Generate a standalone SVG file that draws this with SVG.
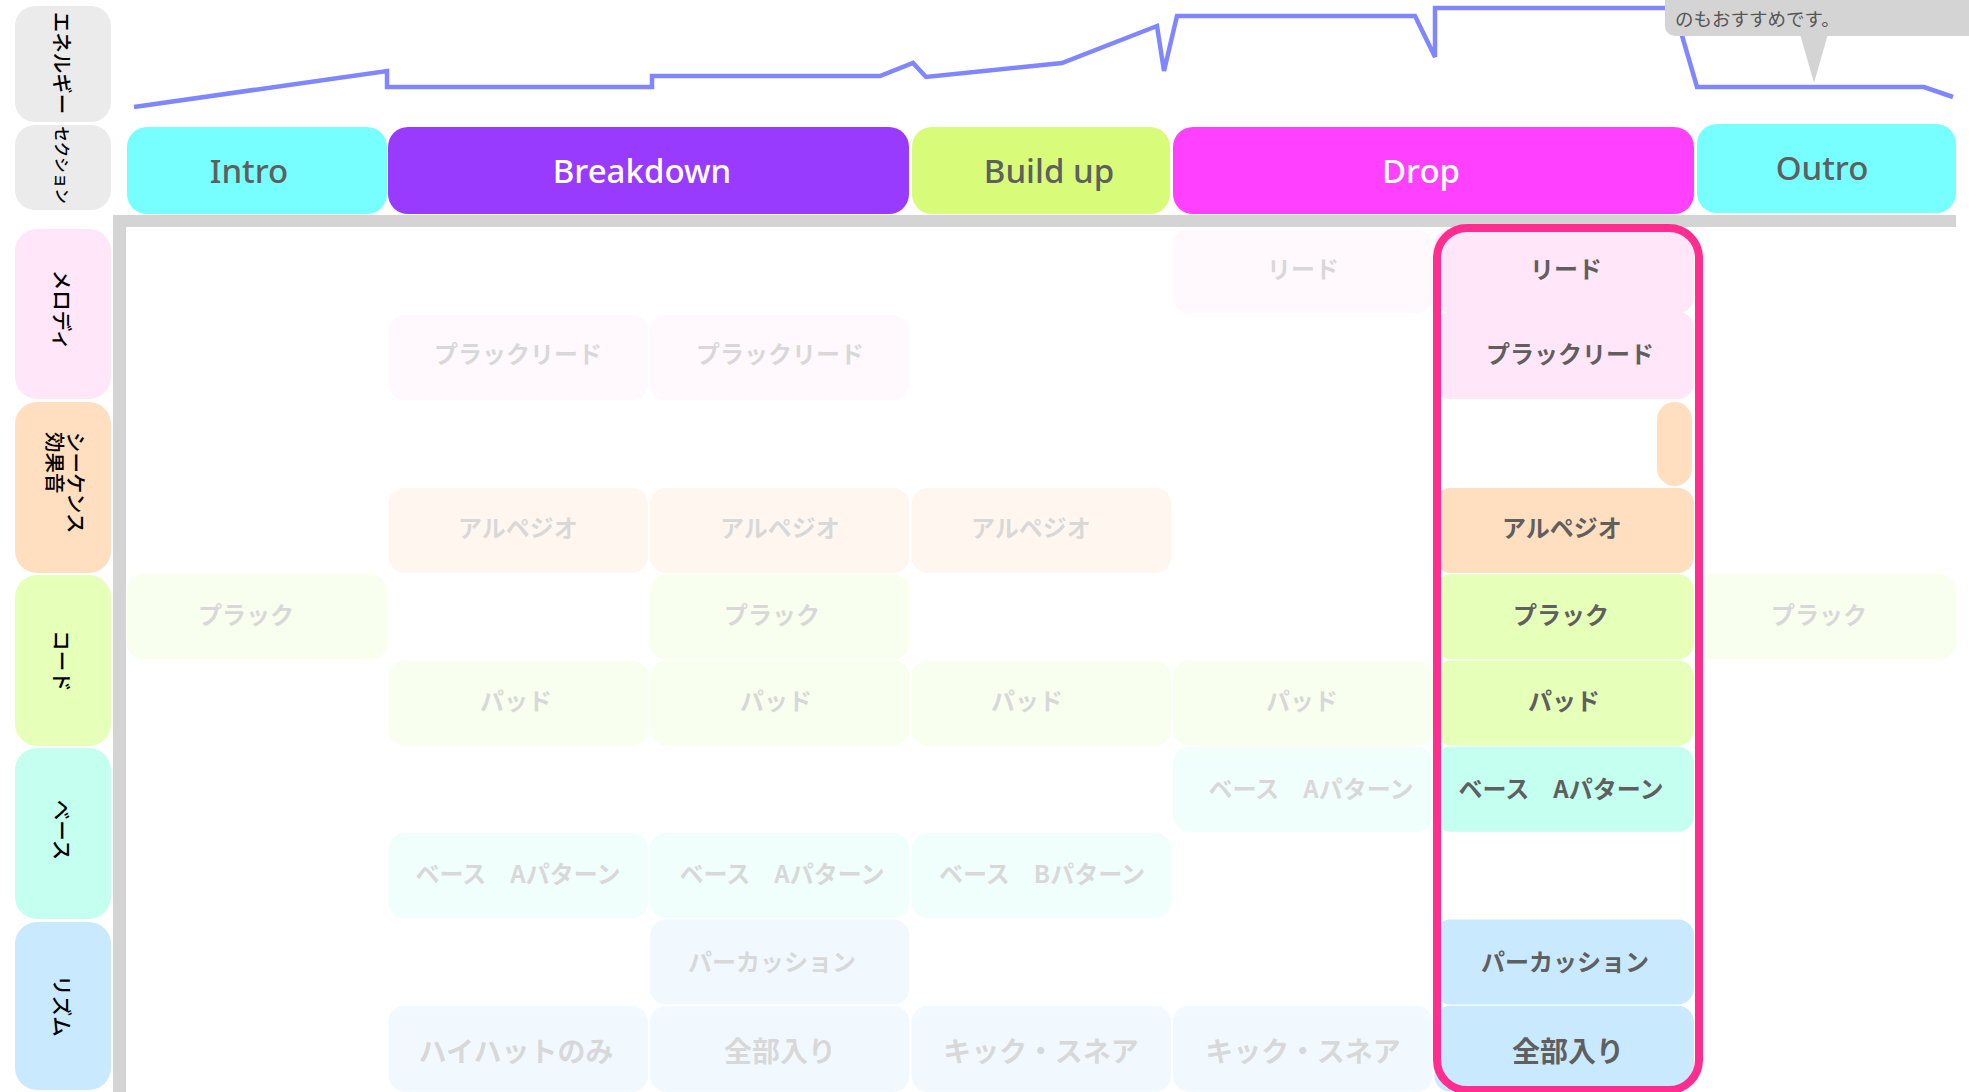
<svg xmlns="http://www.w3.org/2000/svg" width="1969" height="1092" viewBox="0 0 1969 1092">
<style>
.lbl{font-family:"Noto Sans CJK JP","Noto Sans",sans-serif;font-size:20.5px;fill:#000;font-weight:500}
.hdr{font-family:"Noto Sans","Lato","Noto Sans CJK JP",sans-serif;font-size:33px;font-weight:500;text-anchor:middle;dominant-baseline:central}
.dk{fill:#5f5f5f}
.wt{fill:#fff}
.ct{font-family:"Noto Sans CJK JP",sans-serif;font-size:24px;font-weight:700;fill:#5f5f5f;text-anchor:middle;dominant-baseline:central}
.big{font-size:28px}
.faded{opacity:0.24}
.mel{fill:#ffe6f8}
.seq{fill:#ffdfc0}
.chd{fill:#e6ffb9}
.bas{fill:#c4fff0}
.rhy{fill:#c9e9ff}
.gry{fill:#ebebeb}
</style>

<!-- axes -->
<g id="axes">
<rect x="113" y="215" width="1843" height="12" fill="#d4d4d4"/>
<rect x="113" y="215" width="13" height="877" fill="#d4d4d4"/>
</g>

<!-- left labels -->
<g id="label-energy">
<rect class="gry" x="15" y="6" width="96" height="116" rx="20"/>
<text class="lbl" x="63" y="63" font-size="19" text-anchor="middle" dominant-baseline="central" transform="rotate(90 63 63)">エネルギー</text>
</g>
<g id="label-section">
<rect class="gry" x="15" y="125" width="96" height="85" rx="20"/>
<text class="lbl" x="63" y="165" style="font-size:15.5px" text-anchor="middle" dominant-baseline="central" transform="rotate(90 63 165)">セクション</text>
</g>
<g id="label-melody">
<rect class="mel" x="15" y="229" width="96" height="170" rx="22"/>
<text class="lbl" x="63" y="310" text-anchor="middle" dominant-baseline="central" transform="rotate(90 63 310)">メロディ</text>
</g>
<g id="label-sequence">
<rect class="seq" x="15" y="402" width="96" height="171" rx="22"/>
<text class="lbl" x="77" y="432" dominant-baseline="central" transform="rotate(90 77 432)">シーケンス</text>
<text class="lbl" x="56" y="432" dominant-baseline="central" transform="rotate(90 56 432)">効果音</text>
</g>
<g id="label-chord">
<rect class="chd" x="15" y="575" width="96" height="171" rx="22"/>
<text class="lbl" x="63" y="661" text-anchor="middle" dominant-baseline="central" transform="rotate(90 63 661)">コード</text>
</g>
<g id="label-bass">
<rect class="bas" x="15" y="748" width="96" height="171" rx="22"/>
<text class="lbl" x="63" y="830" text-anchor="middle" dominant-baseline="central" transform="rotate(90 63 830)">ベース</text>
</g>
<g id="label-rhythm">
<rect class="rhy" x="15" y="922" width="96" height="168" rx="22"/>
<text class="lbl" x="63" y="1006" text-anchor="middle" dominant-baseline="central" transform="rotate(90 63 1006)">リズム</text>
</g>

<!-- section headers -->
<g id="sec-intro">
<rect x="127" y="127" width="260" height="87" rx="20" fill="#77ffff"/>
<text class="hdr dk" x="249" y="170">Intro</text>
</g>
<g id="sec-breakdown">
<rect x="388" y="127" width="521" height="87" rx="20" fill="#993aff"/>
<text class="hdr wt" x="642" y="170">Breakdown</text>
</g>
<g id="sec-buildup">
<rect x="912" y="127" width="258" height="87" rx="20" fill="#d8fb7a"/>
<text class="hdr dk" x="1049" y="170">Build up</text>
</g>
<g id="sec-drop">
<rect x="1173" y="127" width="521" height="87" rx="20" fill="#ff40ff"/>
<text class="hdr wt" x="1421" y="170">Drop</text>
</g>
<g id="sec-outro">
<rect x="1697" y="124" width="259" height="89" rx="20" fill="#77ffff"/>
<text class="hdr dk" x="1822" y="167">Outro</text>
</g>

<!-- cells: columns x=127+261.5i, rows y=229+86.3j -->
<!-- melody -->
<g id="c4-lead" class="faded"><rect class="mel" x="1173" y="229" width="259.5" height="84" rx="16"/><text class="ct" x="1303" y="267">リード</text></g>
<g id="c5-lead"><rect class="mel" x="1434.5" y="229" width="259.5" height="84" rx="16"/><text class="ct" x="1566" y="267">リード</text></g>
<g id="c1-plucklead" class="faded"><rect class="mel" x="388.5" y="315.3" width="259.5" height="85" rx="16"/><text class="ct" x="518" y="352">プラックリード</text></g>
<g id="c2-plucklead" class="faded"><rect class="mel" x="650" y="315.3" width="259.5" height="85" rx="16"/><text class="ct" x="780" y="352">プラックリード</text></g>
<g id="c5-plucklead"><rect class="mel" x="1434.5" y="312" width="259.5" height="87" rx="16"/><text class="ct" x="1570" y="352">プラックリード</text></g>

<!-- sequence -->
<g id="c5-fx"><rect class="seq" x="1657" y="402" width="35" height="84" rx="17.5"/></g>
<g id="c1-arp" class="faded"><rect class="seq" x="388.5" y="487.9" width="259.5" height="85" rx="16"/><text class="ct" x="518" y="526">アルペジオ</text></g>
<g id="c2-arp" class="faded"><rect class="seq" x="650" y="487.9" width="259.5" height="85" rx="16"/><text class="ct" x="780" y="526">アルペジオ</text></g>
<g id="c3-arp" class="faded"><rect class="seq" x="911.5" y="487.9" width="259.5" height="85" rx="16"/><text class="ct" x="1031" y="526">アルペジオ</text></g>
<g id="c5-arp"><rect class="seq" x="1434.5" y="487.9" width="259.5" height="85" rx="16"/><text class="ct" x="1562" y="526">アルペジオ</text></g>

<!-- chord -->
<g id="c0-pluck" class="faded"><rect class="chd" x="127" y="574.2" width="259.5" height="85" rx="16"/><text class="ct" x="246" y="613">プラック</text></g>
<g id="c2-pluck" class="faded"><rect class="chd" x="650" y="574.2" width="259.5" height="85" rx="16"/><text class="ct" x="772" y="613">プラック</text></g>
<g id="c5-pluck"><rect class="chd" x="1434.5" y="574.2" width="259.5" height="85" rx="16"/><text class="ct" x="1561" y="613">プラック</text></g>
<g id="c6-pluck" class="faded"><rect class="chd" x="1696" y="574.2" width="259.5" height="85" rx="16"/><text class="ct" x="1819" y="613">プラック</text></g>
<g id="c1-pad" class="faded"><rect class="chd" x="388.5" y="660.5" width="259.5" height="85" rx="16"/><text class="ct" x="516" y="699">パッド</text></g>
<g id="c2-pad" class="faded"><rect class="chd" x="650" y="660.5" width="259.5" height="85" rx="16"/><text class="ct" x="776" y="699">パッド</text></g>
<g id="c3-pad" class="faded"><rect class="chd" x="911.5" y="660.5" width="259.5" height="85" rx="16"/><text class="ct" x="1027" y="699">パッド</text></g>
<g id="c4-pad" class="faded"><rect class="chd" x="1173" y="660.5" width="259.5" height="85" rx="16"/><text class="ct" x="1302" y="699">パッド</text></g>
<g id="c5-pad"><rect class="chd" x="1434.5" y="660.5" width="259.5" height="85" rx="16"/><text class="ct" x="1564" y="699">パッド</text></g>

<!-- bass -->
<g id="c4-bassA" class="faded"><rect class="bas" x="1173" y="746.8" width="259.5" height="85" rx="16"/><text class="ct" x="1311" y="787">ベース　Aパターン</text></g>
<g id="c5-bassA"><rect class="bas" x="1434.5" y="746.8" width="259.5" height="85" rx="16"/><text class="ct" x="1561" y="787">ベース　Aパターン</text></g>
<g id="c1-bassA" class="faded"><rect class="bas" x="388.5" y="833.1" width="259.5" height="85" rx="16"/><text class="ct" x="518" y="872">ベース　Aパターン</text></g>
<g id="c2-bassA" class="faded"><rect class="bas" x="650" y="833.1" width="259.5" height="85" rx="16"/><text class="ct" x="782" y="872">ベース　Aパターン</text></g>
<g id="c3-bassB" class="faded"><rect class="bas" x="911.5" y="833.1" width="259.5" height="85" rx="16"/><text class="ct" x="1042" y="872">ベース　Bパターン</text></g>

<!-- rhythm -->
<g id="c2-perc" class="faded"><rect class="rhy" x="650" y="919.4" width="259.5" height="85" rx="16"/><text class="ct" x="772" y="960">パーカッション</text></g>
<g id="c5-perc"><rect class="rhy" x="1434.5" y="919.4" width="259.5" height="85" rx="16"/><text class="ct" x="1565" y="960">パーカッション</text></g>
<g id="c1-hihat" class="faded"><rect class="rhy" x="388.5" y="1005.7" width="259.5" height="86" rx="16"/><text class="ct big" x="516" y="1050">ハイハットのみ</text></g>
<g id="c2-all" class="faded"><rect class="rhy" x="650" y="1005.7" width="259.5" height="86" rx="16"/><text class="ct big" x="780" y="1050">全部入り</text></g>
<g id="c3-ks" class="faded"><rect class="rhy" x="911.5" y="1005.7" width="259.5" height="86" rx="16"/><text class="ct big" x="1041" y="1050">キック・スネア</text></g>
<g id="c4-ks" class="faded"><rect class="rhy" x="1173" y="1005.7" width="259.5" height="86" rx="16"/><text class="ct big" x="1303" y="1050">キック・スネア</text></g>
<g id="c5-all"><rect class="rhy" x="1434.5" y="1005.7" width="259.5" height="86" rx="16"/><text class="ct big" x="1568" y="1050">全部入り</text></g>

<!-- highlight outline -->
<g id="highlight">
<rect x="1437" y="228" width="262" height="862" rx="30" fill="none" stroke="#ff2d8f" stroke-width="8"/>
</g>

<!-- energy curve -->
<g id="connectors">
<polyline fill="none" stroke="#7f86ff" stroke-width="4.5" stroke-linejoin="miter" points="134,107 387,71 387,87 652,87 652,76 880,76 913,63 926,77 1062,63 1157,26 1164,71 1177,16 1415,16 1435,57 1435,8 1674,8 1697,87 1924,87 1953,97"/>
</g>

<!-- tooltip -->
<g id="tooltip">
<rect x="1665" y="-12" width="320" height="48" rx="10" fill="#d4d4d4"/>
<polygon points="1800,34 1828,34 1814,83" fill="#d4d4d4"/>
<text x="1675" y="18" font-family="Noto Sans CJK JP, sans-serif" font-size="18.5" fill="#555" dominant-baseline="central">のもおすすめです。</text>
</g>
</svg>
